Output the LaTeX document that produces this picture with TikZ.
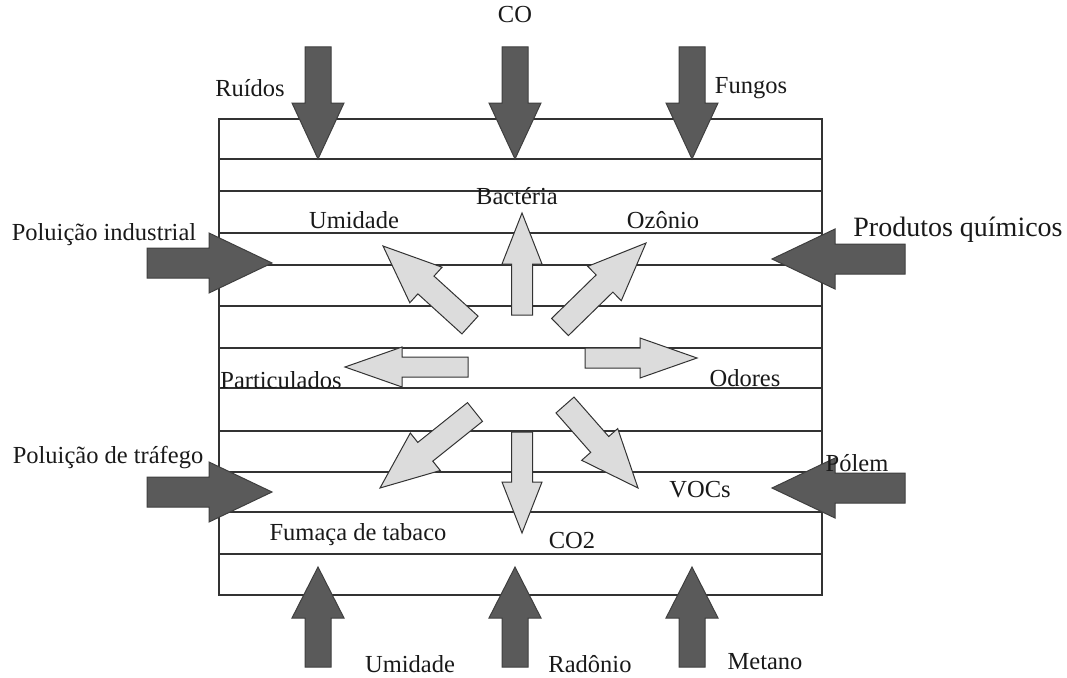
\documentclass[tikz,border=0pt]{standalone}
\usepackage{fontspec}
\setmainfont{Liberation Serif}
\usetikzlibrary{calc}

\definecolor{darkgrey}{RGB}{90,90,90}
\definecolor{lightgrey}{RGB}{220,220,220}

% block arrow: style, tail, tip, half shaft, half head, head length
\newcommand{\blockarrow}[6]{%
	\coordinate (hb) at ($(#3)!#6!(#2)$);
	\draw[#1] ($(#2)!#4!90:(#3)$) -- ($(hb)!#4!-90:(#2)$) -- ($(hb)!#5!-90:(#2)$) -- (#3)
	-- ($(hb)!#5!90:(#2)$) -- ($(hb)!#4!90:(#2)$) -- ($(#2)!#4!-90:(#3)$) -- cycle;
}

\begin{document}
\begin{tikzpicture}[x=1pt, y=-1pt, font=\fontsize{24.5}{28}\selectfont,
	inflow/.style={fill=darkgrey, draw=darkgrey!70!black, line width=1pt},
	outflow/.style={fill=lightgrey, draw=black!80, line width=1pt},
	label/.style={inner sep=0pt, text=black!90}]
	
	\useasboundingbox (0,0) rectangle (1067,677);
	
	% --- Constants ---
	\def\xl{219}
	\def\xr{822}
	\def\yt{119}
	\def\yb{595}
	
	% =======================================================
	% BUILDING: box with floors
	% =======================================================
	\draw[line width=1.5pt, black!80] (\xl,\yt) rectangle (\xr,\yb);
	\foreach \yy in {159, 191, 233, 265, 306, 348, 388, 431, 472, 512, 554} {
		\draw[line width=1.5pt, black!80] (\xl,\yy) -- (\xr,\yy);
	}
	
	% =======================================================
	% OUTSIDE SOURCES (dark arrows)
	% =======================================================
	% top
	\coordinate (ruidosT) at (318,47);    \coordinate (ruidosH) at (318,159);
	\coordinate (coT) at (515,47);        \coordinate (coH) at (515,159);
	\coordinate (fungosT) at (692,47);    \coordinate (fungosH) at (692,159);
	% bottom
	\coordinate (umidbT) at (318,667);    \coordinate (umidbH) at (318,567);
	\coordinate (radonT) at (515,667);    \coordinate (radonH) at (515,567);
	\coordinate (metanoT) at (692,667);   \coordinate (metanoH) at (692,567);
	% sides
	\coordinate (indT) at (147,263);      \coordinate (indH) at (272,263);
	\coordinate (trafT) at (147,492);     \coordinate (trafH) at (272,492);
	\coordinate (quimT) at (905,259);     \coordinate (quimH) at (772,259);
	\coordinate (polemT) at (905,488);    \coordinate (polemH) at (772,488);
	
	\foreach \src in {ruidos, co, fungos} {
		\blockarrow{inflow}{\src T}{\src H}{13pt}{26pt}{56pt}
	}
	\foreach \src in {umidb, radon, metano} {
		\blockarrow{inflow}{\src T}{\src H}{13pt}{26pt}{51pt}
	}
	\foreach \src in {ind, traf, quim, polem} {
		\blockarrow{inflow}{\src T}{\src H}{15pt}{30pt}{63pt}
	}
	
	% =======================================================
	% INSIDE POLLUTANTS (light arrows)
	% =======================================================
	\coordinate (bactT) at (522,315);     \coordinate (bactH) at (522,213);
	\coordinate (co2T) at (522,432);      \coordinate (co2H) at (522,533);
	\coordinate (odorT) at (585,358);     \coordinate (odorH) at (697,358);
	\coordinate (partT) at (468,367);     \coordinate (partH) at (345,367);
	\coordinate (umidT) at (470,325);     \coordinate (umidH) at (383,246);
	\coordinate (ozonT) at (560,327);     \coordinate (ozonH) at (646,243);
	\coordinate (fumT) at (475,412);      \coordinate (fumH) at (380,488);
	\coordinate (vocT) at (565,405);      \coordinate (vocH) at (638,488);
	
	\foreach \src in {bact, co2} {
		\blockarrow{outflow}{\src T}{\src H}{10.5pt}{20pt}{51pt}
	}
	\foreach \src in {odor, part} {
		\blockarrow{outflow}{\src T}{\src H}{10pt}{20pt}{57pt}
	}
	\foreach \src in {umid, ozon, fum, voc} {
		\blockarrow{outflow}{\src T}{\src H}{12pt}{24pt}{58pt}
	}
	
	% =======================================================
	% LABELS
	% =======================================================
	\node[label] (co) at (515,15) {CO};
	\node[label] (ruidos) at (250,88) {Ruídos};
	\node[label] (fungos) at (751,88) {Fungos};
	\node[label] (bacteria) at (517,196) {Bactéria};
	\node[label] (umidade) at (354,220) {Umidade};
	\node[label] (ozonio) at (663,220) {Ozônio};
	\node[label] (industrial) at (104,235) {Poluição industrial};
	\node[label, font=\fontsize{28}{32}\selectfont] (quimicos) at (958,230) {Produtos químicos};
	\node[label] (particulados) at (281,380) {Particulados};
	\node[label] (odores) at (745,378) {Odores};
	\node[label] (trafego) at (108,458) {Poluição de tráfego};
	\node[label] (polem) at (857,463) {Pólem};
	\node[label] (vocs) at (700,490) {VOCs};
	\node[label] (tabaco) at (358,535) {Fumaça de tabaco};
	\node[label] (co2) at (572,541) {CO2};
	\node[label] (umidadeb) at (410,664) {Umidade};
	\node[label] (radonio) at (590,664) {Radônio};
	\node[label] (metano) at (765,662) {Metano};
	
\end{tikzpicture}
\end{document}
